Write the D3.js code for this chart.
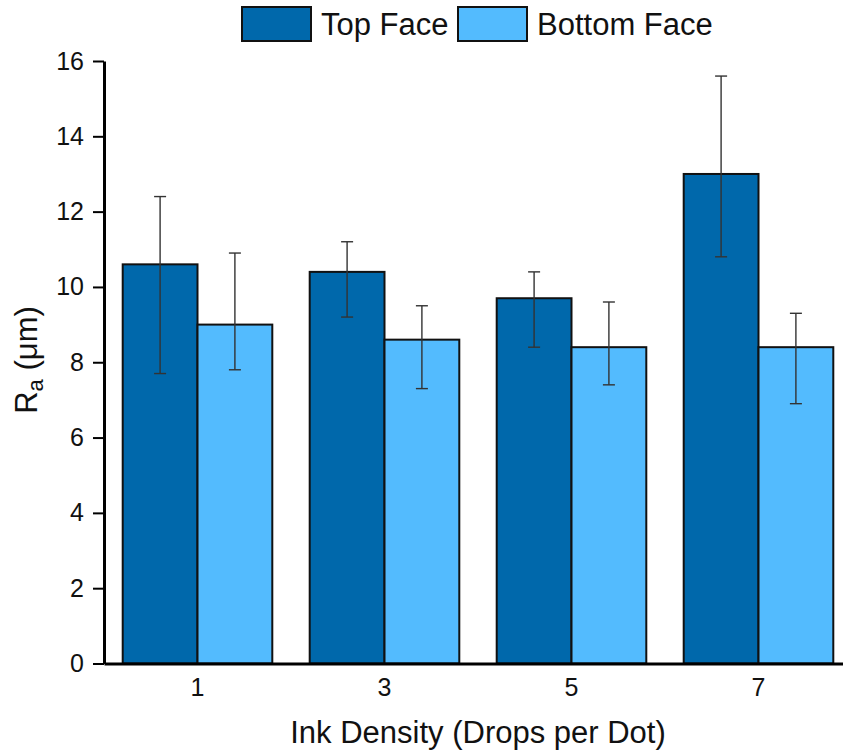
<!DOCTYPE html>
<html>
<head>
<meta charset="utf-8">
<script src="https://cdn.jsdelivr.net/npm/d3@7"></script>
<style>
  body { margin: 0; background: #fff; }
  svg { display: block; font-family: "Liberation Sans", Arial, sans-serif; }
</style>
</head>
<body>
<svg id="chart" width="843" height="752"></svg>
<script>
// data
var densities = ["1", "3", "5", "7"];
var seriesNames = ["Top Face", "Bottom Face"];
var seriesColors = ["#0068ab", "#53bbfe"];
var topFace = [10.6, 10.4, 9.7, 13.0];
var topHigh = [12.4, 11.2, 10.4, 15.6];
var topLow = [7.7, 9.2, 8.4, 10.8];
var bottomFace = [9.0, 8.6, 8.4, 8.4];
var bottomHigh = [10.9, 9.5, 9.6, 9.3];
var bottomLow = [7.8, 7.3, 7.4, 6.9];
var yTicks = [0, 2, 4, 6, 8, 10, 12, 14, 16];

var svg = d3.select("#chart");
var plotLeft = 104, plotRight = 852, plotTop = 61, plotBottom = 663.5;

var x = d3.scaleBand().domain(densities).range([plotLeft, plotRight])
    .paddingInner(0.2).paddingOuter(0.1);
var xSub = d3.scaleBand().domain(seriesNames).range([0, x.bandwidth()]);
var y = d3.scaleLinear().domain([0, 16]).range([plotBottom, plotTop]);

// rows: one per bar
var rows = [];
densities.forEach(function(d, i) {
    rows.push({ dens: d, series: seriesNames[0], value: topFace[i], hi: topHigh[i], lo: topLow[i], color: seriesColors[0] });
    rows.push({ dens: d, series: seriesNames[1], value: bottomFace[i], hi: bottomHigh[i], lo: bottomLow[i], color: seriesColors[1] });
});

svg.selectAll("rect.bar").data(rows).enter().append("rect")
    .attr("class", "bar")
    .attr("x", function(d) { return x(d.dens) + xSub(d.series); })
    .attr("width", xSub.bandwidth())
    .attr("y", function(d) { return y(d.value); })
    .attr("height", function(d) { return y(0) - y(d.value); })
    .attr("fill", function(d) { return d.color; })
    .attr("stroke", "#111")
    .attr("stroke-width", 2);

// error bars
var err = svg.selectAll("g.err").data(rows).enter().append("g")
    .attr("class", "err")
    .attr("transform", function(d) { return "translate(" + (x(d.dens) + xSub(d.series) + xSub.bandwidth() / 2) + ",0)"; })
    .attr("stroke", "#333")
    .attr("stroke-width", 1.4);
err.append("line").attr("y1", function(d) { return y(d.hi); }).attr("y2", function(d) { return y(d.lo); });
err.append("line").attr("x1", -6).attr("x2", 6)
    .attr("y1", function(d) { return y(d.hi); }).attr("y2", function(d) { return y(d.hi); });
err.append("line").attr("x1", -6).attr("x2", 6)
    .attr("y1", function(d) { return y(d.lo); }).attr("y2", function(d) { return y(d.lo); });

// axes
var yAxis = svg.append("g").attr("transform", "translate(" + plotLeft + ",0)")
    .call(d3.axisLeft(y).tickValues(yTicks).tickSize(11).tickPadding(9).tickSizeOuter(0));
yAxis.attr("font-size", 25).attr("font-family", "Liberation Sans, Arial, sans-serif");
yAxis.select(".domain").attr("stroke", "#000").attr("stroke-width", 3);
yAxis.selectAll(".tick line").attr("stroke", "#000").attr("stroke-width", 2);
yAxis.selectAll(".tick text").attr("fill", "#111");

var xAxis = svg.append("g").attr("transform", "translate(0," + plotBottom + ")")
    .call(d3.axisBottom(x).tickSize(0).tickPadding(15).tickSizeOuter(0));
xAxis.attr("font-size", 25).attr("font-family", "Liberation Sans, Arial, sans-serif");
xAxis.select(".domain").attr("stroke", "#000").attr("stroke-width", 3);
xAxis.selectAll(".tick text").attr("fill", "#111");

// axis titles
svg.append("text")
    .attr("x", (plotLeft + plotRight) / 2).attr("y", 743)
    .attr("text-anchor", "middle").attr("font-size", 31).attr("fill", "#111")
    .text("Ink Density (Drops per Dot)");

var yTitle = svg.append("text")
    .attr("transform", "translate(37,360) rotate(-90)")
    .attr("text-anchor", "middle").attr("font-size", 31).attr("fill", "#111");
yTitle.append("tspan").text("R");
yTitle.append("tspan").attr("font-size", 22).attr("dy", 6).text("a");
yTitle.append("tspan").attr("dy", -6).text(" (\u03bcm)");

// legend
var legend = svg.selectAll("g.legend").data(seriesNames).enter().append("g")
    .attr("class", "legend")
    .attr("transform", function(d, i) { return "translate(" + [242, 458][i] + ",7)"; });
legend.append("rect")
    .attr("width", 69).attr("height", 34)
    .attr("fill", function(d, i) { return seriesColors[i]; })
    .attr("stroke", "#111").attr("stroke-width", 2);
legend.append("text")
    .attr("x", 79).attr("y", 28)
    .attr("font-size", 31).attr("fill", "#111")
    .text(function(d) { return d; });
</script>
</body>
</html>
